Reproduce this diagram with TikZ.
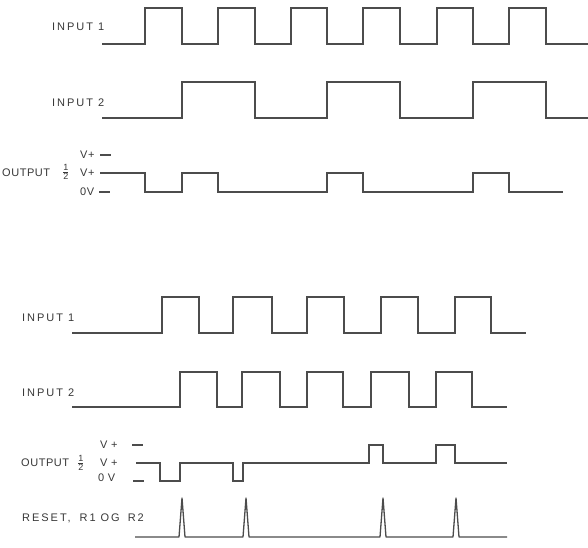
\documentclass[tikz,border=0pt]{standalone}
\usepackage{fontspec}
\setsansfont{Liberation Sans}
\newfontfamily\lblfont[LetterSpace=18]{Liberation Sans}
\newfontfamily\lbltight[LetterSpace=5]{Liberation Sans}
\begin{document}
\begin{tikzpicture}[x=1pt,y=-1pt,
  wave/.style={draw=black!70, line width=1.3pt, line join=miter},
  tick/.style={draw=black!70, line width=1.1pt},
  lbl/.style={anchor=west, inner sep=0pt, text=black!78, font=\lblfont\fontsize{11}{11}\selectfont},
  lbt/.style={anchor=west, inner sep=0pt, text=black!78, font=\lbltight\fontsize{11}{11}\selectfont},
  frac/.style={anchor=west, inner sep=0pt, text=black!78}]
\useasboundingbox[fill=white] (0,0) rectangle (588,547);

% ---------- top diagram ----------
\node[lbl] (t1) at (52,27) {INPUT 1};
\node[lbl] (t2) at (52,103) {INPUT 2};
\node[lbt] (to) at (2,173) {OUTPUT};
\node[frac] (tf) at (62,172) {$\frac{\textsf{\small 1}}{\textsf{\small 2}}$};
\node[lbt] (tvp) at (80,155) {V+};
\node[lbt] (tvm) at (80,173) {V+};
\node[lbt] (t0v) at (80,192) {0V};

\draw[tick] (100,155) -- (111,155);
\draw[tick] (99,192) -- (110,192);

\draw[wave] (102,44) -- (145,44) -- (145,8) -- (182,8) -- (182,44) -- (218,44) -- (218,8) -- (255,8) -- (255,44)
  -- (291,44) -- (291,8) -- (327,8) -- (327,44) -- (363,44) -- (363,8) -- (400,8) -- (400,44)
  -- (437,44) -- (437,8) -- (473,8) -- (473,44) -- (509,44) -- (509,8) -- (546,8) -- (546,44) -- (588,44);

\draw[wave] (102,118) -- (182,118) -- (182,82) -- (255,82) -- (255,118) -- (327,118) -- (327,82)
  -- (400,82) -- (400,118) -- (473,118) -- (473,82) -- (546,82) -- (546,118) -- (588,118);

\draw[wave] (100,173) -- (145,173) -- (145,192) -- (182,192) -- (182,173) -- (218,173) -- (218,192)
  -- (327,192) -- (327,173) -- (363,173) -- (363,192) -- (473,192) -- (473,173) -- (509,173) -- (509,192) -- (563,192);

% ---------- bottom diagram ----------
\node[lbl] (b1) at (22,318) {INPUT 1};
\node[lbl] (b2) at (22,393) {INPUT 2};
\node[lbt] (bo) at (21,463) {OUTPUT};
\node[frac] (bf) at (77,463) {$\frac{\textsf{\small 1}}{\textsf{\small 2}}$};
\node[lbt] (bvp) at (100,445) {V +};
\node[lbt] (bvm) at (100,463) {V +};
\node[lbt] (b0v) at (98,478) {0 V};
\node[lbl] (br) at (22,518) {RESET,\hspace{9pt}R1 OG\hspace{3pt} R2};

\draw[tick] (132,445) -- (143,445);
\draw[tick] (133,481) -- (144,481);

\draw[wave] (72,333) -- (162,333) -- (162,297) -- (199,297) -- (199,333) -- (233,333) -- (233,297) -- (272,297)
  -- (272,333) -- (307,333) -- (307,297) -- (344,297) -- (344,333) -- (381,333) -- (381,297) -- (418,297)
  -- (418,333) -- (455,333) -- (455,297) -- (491,297) -- (491,333) -- (526,333);

\draw[wave] (72,407) -- (180,407) -- (180,372) -- (217,372) -- (217,407) -- (242,407) -- (242,372) -- (280,372)
  -- (280,407) -- (307,407) -- (307,372) -- (343,372) -- (343,407) -- (371,407) -- (371,372) -- (409,372)
  -- (409,407) -- (436,407) -- (436,372) -- (472,372) -- (472,407) -- (507,407);

\draw[wave] (136,463) -- (160,463) -- (160,481) -- (180,481) -- (180,463) -- (233,463) -- (233,481) -- (243,481)
  -- (243,463) -- (369,463) -- (369,445) -- (383,445) -- (383,463) -- (436,463) -- (436,445) -- (455,445)
  -- (455,463) -- (507,463);

\draw[wave, line join=round] (135,537) -- (179,537) -- (182,498) -- (185,537) -- (243,537) -- (246,498) -- (249,537)
  -- (380,537) -- (383,498) -- (386,537) -- (453,537) -- (456,498) -- (459,537) -- (507,537);
\end{tikzpicture}
\end{document}
